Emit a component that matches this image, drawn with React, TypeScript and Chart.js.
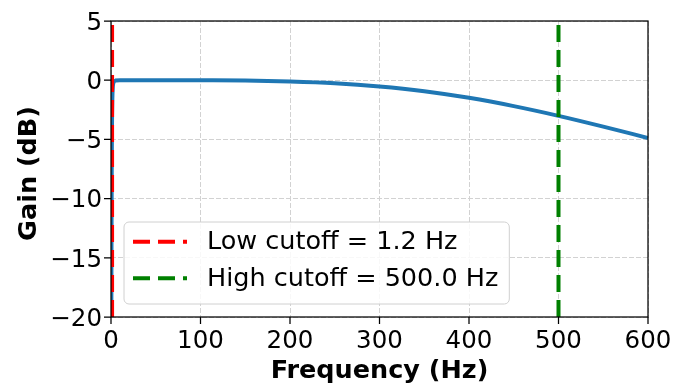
import { useEffect, useRef } from "react";
import { Chart, registerables } from "chart.js";

Chart.register(...registerables);

// Frequency response
const frequencyHz = [0.2, 0.3, 0.5, 0.8, 1.0, 1.2, 1.5, 2, 3, 5, 10, 50, 100, 150, 200, 250, 300, 350, 400, 450, 500, 550, 600];
const gainDb = [-31, -24, -15.3, -7.9, -4.9, -3.0, -1.6, -0.6, -0.17, -0.03, 0, 0, -0.01, -0.03, -0.11, -0.26, -0.53, -0.93, -1.49, -2.19, -3.01, -3.92, -4.88];

const lowCutoffHz = 1.2;
const highCutoffHz = 500.0;

const xRange = [0, 600];
const yRange = [-20, 5];
const xStep = 100;
const yStep = 5;

const xTitle = "Frequency (Hz)";
const yTitle = "Gain (dB)";

const legendLabels = [
  `Low cutoff = ${lowCutoffHz.toFixed(1)} Hz`,
  `High cutoff = ${highCutoffHz.toFixed(1)} Hz`,
];
const legendColors = ["red", "green"];

const FONT = "DejaVu Sans";

const legendPlugin = {
  id: "insideLegend",
  afterDatasetsDraw(chart: any) {
    const { ctx, chartArea: a } = chart;
    ctx.save();
    ctx.font = `25.5px "${FONT}"`;
    const textW = Math.max(...legendLabels.map((l) => ctx.measureText(l).width));
    const left = a.left + 13;
    const bottom = a.bottom - 13;
    const height = 82;
    const top = bottom - height;
    const width = 83 + textW + 11;
    const r = 5;
    ctx.beginPath();
    ctx.moveTo(left + r, top);
    ctx.lineTo(left + width - r, top);
    ctx.arcTo(left + width, top, left + width, top + r, r);
    ctx.lineTo(left + width, bottom - r);
    ctx.arcTo(left + width, bottom, left + width - r, bottom, r);
    ctx.lineTo(left + r, bottom);
    ctx.arcTo(left, bottom, left, bottom - r, r);
    ctx.lineTo(left, top + r);
    ctx.arcTo(left, top, left + r, top, r);
    ctx.closePath();
    ctx.fillStyle = "rgba(255,255,255,0.85)";
    ctx.fill();
    ctx.strokeStyle = "#d0d0d0";
    ctx.lineWidth = 1;
    ctx.stroke();

    const rows = [top + 19.7, top + 56.3];
    legendLabels.forEach((label, i) => {
      const y = rows[i];
      ctx.beginPath();
      ctx.setLineDash([17, 8]);
      ctx.strokeStyle = legendColors[i];
      ctx.lineWidth = 4;
      ctx.moveTo(left + 9, y);
      ctx.lineTo(left + 63, y);
      ctx.stroke();
      ctx.setLineDash([]);
      ctx.fillStyle = "#000";
      ctx.textBaseline = "middle";
      ctx.textAlign = "left";
      ctx.fillText(label, left + 83, y + 1);
    });
    ctx.restore();
  },
};

const framePlugin = {
  id: "frame",
  afterDraw(chart: any) {
    const { ctx, chartArea: a, scales } = chart;
    ctx.save();
    ctx.setLineDash([]);
    ctx.strokeStyle = "#000";
    ctx.lineWidth = 1.25;
    ctx.strokeRect(a.left, a.top, a.right - a.left, a.bottom - a.top);
    ctx.beginPath();
    scales.x.ticks.forEach((t: any) => {
      const px = scales.x.getPixelForValue(t.value);
      ctx.moveTo(px, a.bottom);
      ctx.lineTo(px, a.bottom + 7);
    });
    scales.y.ticks.forEach((t: any) => {
      const py = scales.y.getPixelForValue(t.value);
      ctx.moveTo(a.left - 7, py);
      ctx.lineTo(a.left, py);
    });
    ctx.stroke();

    // axis titles
    ctx.fillStyle = "#000";
    ctx.font = `bold 25.5px "${FONT}"`;
    ctx.textAlign = "center";
    ctx.textBaseline = "alphabetic";
    ctx.fillText(xTitle, (a.left + a.right) / 2, 378);
    ctx.translate(36, (a.top + a.bottom) / 2 + 4.5);
    ctx.rotate(-Math.PI / 2);
    ctx.fillText(yTitle, 0, 0);
    ctx.restore();
  },
};

export default function App() {
  const ref = useRef<HTMLCanvasElement | null>(null);

  useEffect(() => {
    document.body.style.margin = "0";
    const canvas = ref.current;
    if (!canvas) return;
    const tickFont = { family: FONT, size: 24.5 };
    const border = { display: false, dash: [5, 2] };

    const chart = new Chart(canvas, {
      type: "scatter",
      data: {
        datasets: [
          {
            label: "Gain",
            data: frequencyHz.map((f, i) => ({ x: f, y: gainDb[i] })),
            showLine: true,
            borderColor: "#1f77b4",
            borderWidth: 4,
            pointRadius: 0,
            cubicInterpolationMode: "monotone",
            order: 3,
          },
          {
            label: legendLabels[0],
            data: [
              { x: lowCutoffHz, y: yRange[0] },
              { x: lowCutoffHz, y: yRange[1] },
            ],
            showLine: true,
            borderColor: legendColors[0],
            borderWidth: 4,
            borderDash: [17, 8],
            pointRadius: 0,
            order: 1,
          },
          {
            label: legendLabels[1],
            data: [
              { x: highCutoffHz, y: yRange[0] },
              { x: highCutoffHz, y: yRange[1] },
            ],
            showLine: true,
            borderColor: legendColors[1],
            borderWidth: 4,
            borderDash: [17, 8],
            pointRadius: 0,
            order: 2,
          },
        ],
      },
      options: {
        animation: false,
        responsive: true,
        maintainAspectRatio: false,
        layout: { padding: { top: 21, right: 27, left: 0, bottom: 0 } },
        plugins: { legend: { display: false }, tooltip: { enabled: false } },
        scales: {
          x: {
            type: "linear",
            min: xRange[0],
            max: xRange[1],
            ticks: { stepSize: xStep, font: tickFont, color: "#000", padding: 0 },
            grid: {
              color: "#d2d2d2",
              lineWidth: 1,
              drawTicks: true,
              tickLength: 10,
              tickColor: "rgba(0,0,0,0)",
            },
            border,
            afterFit: (s: any) => {
              s.height = 68;
            },
          },
          y: {
            type: "linear",
            min: yRange[0],
            max: yRange[1],
            ticks: {
              stepSize: yStep,
              font: tickFont,
              color: "#000",
              padding: 0,
              labelOffset: 2.5,
              callback: (v: any) => (Number(v) < 0 ? "\u2212" + Math.abs(Number(v)) : String(v)),
            },
            grid: {
              color: "#d2d2d2",
              lineWidth: 1,
              drawTicks: true,
              tickLength: 9,
              tickColor: "rgba(0,0,0,0)",
            },
            border,
            afterFit: (s: any) => {
              s.width = 111;
            },
          },
        },
      },
      plugins: [legendPlugin, framePlugin],
    });
    return () => chart.destroy();
  }, []);

  return (
    <div style={{ width: 675, height: 385, position: "relative" }}>
      <canvas ref={ref} />
    </div>
  );
}
